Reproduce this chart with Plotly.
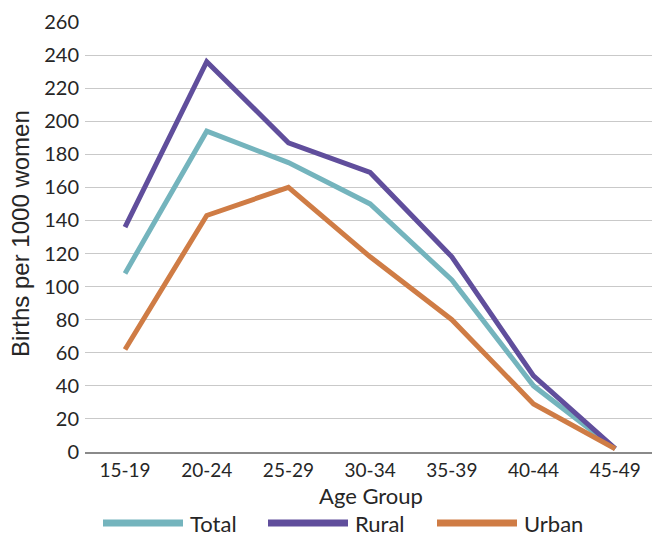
import plotly.graph_objects as go

# Age-specific fertility rates (births per 1000 women)
age_groups = ["15-19", "20-24", "25-29", "30-34", "35-39", "40-44", "45-49"]
total = [108, 194, 175, 150, 104, 40, 2]
rural = [136, 236, 187, 169, 118, 46, 2]
urban = [62, 143, 160, 118, 80, 29, 2]

y_ticks = list(range(0, 261, 20))

series = [
    ("Total", total, "#74B4BD"),
    ("Rural", rural, "#604E9C"),
    ("Urban", urban, "#CF7C45"),
]

FONT = "Lato, Carlito, 'Liberation Sans', sans-serif"
TITLE_FONT = "'Liberation Sans', Arial, sans-serif"
TEXT = "#262626"

W, H = 652, 538
ML, MR, MT, MB = 85, 0, 22, 86
PW = W - ML - MR
PH = H - MT - MB

fig = go.Figure()
for name, vals, color in series:
    fig.add_trace(go.Scatter(
        x=age_groups, y=vals, mode="lines", name=name,
        line=dict(color=color, width=5, shape="linear"),
        showlegend=False, cliponaxis=False,
    ))

# Legend drawn as line swatches plus labels under the axis title
legend_y = (MT + PH - 523) / PH
legend_items = [("Total", "#74B4BD", 103, 183), ("Rural", "#604E9C", 268, 348), ("Urban", "#CF7C45", 437, 517)]
shapes = []
annotations = []
for name, color, x0, x1 in legend_items:
    shapes.append(dict(
        type="line", xref="paper", yref="paper",
        x0=(x0 - ML) / PW, x1=(x1 - ML) / PW, y0=legend_y, y1=legend_y,
        line=dict(color=color, width=7), layer="above",
    ))
    annotations.append(dict(
        text=name, xref="paper", yref="paper",
        x=(x1 + 5 - ML) / PW, y=legend_y, xanchor="left", yanchor="middle",
        showarrow=False, font=dict(family=FONT, size=22, color=TEXT),
    ))

annotations.append(dict(
    text="Births per 1000 women", xref="paper", yref="paper",
    x=(21 - ML) / PW, y=(MT + PH - 234) / PH, textangle=-90,
    xanchor="center", yanchor="middle", showarrow=False,
    font=dict(family=TITLE_FONT, size=24, color=TEXT),
))
annotations.append(dict(
    text="Age Group", xref="paper", yref="paper",
    x=(371 - ML) / PW, y=(MT + PH - 496) / PH,
    xanchor="center", yanchor="middle", showarrow=False,
    font=dict(family=FONT, size=22, color=TEXT),
))

fig.update_layout(
    width=W, height=H,
    margin=dict(l=ML, r=MR, t=MT, b=MB, pad=0),
    paper_bgcolor="white", plot_bgcolor="white",
    shapes=shapes, annotations=annotations,
    xaxis=dict(
        type="category", range=[-0.49, 6.45],
        showgrid=False, showline=True, linecolor="#8A8A8A", linewidth=2,
        ticks="", ticklabelstandoff=0,
        tickfont=dict(family=FONT, size=19, color=TEXT),
        fixedrange=True,
    ),
    yaxis=dict(
        range=[0, 260], tickvals=y_ticks,
        showgrid=True, gridcolor="#C9C9C9", gridwidth=1,
        zeroline=False, showline=False, ticks="",
        ticklabelstandoff=5,
        tickfont=dict(family=FONT, size=20, color=TEXT),
        fixedrange=True,
    ),
)

fig.write_html("out.html")
